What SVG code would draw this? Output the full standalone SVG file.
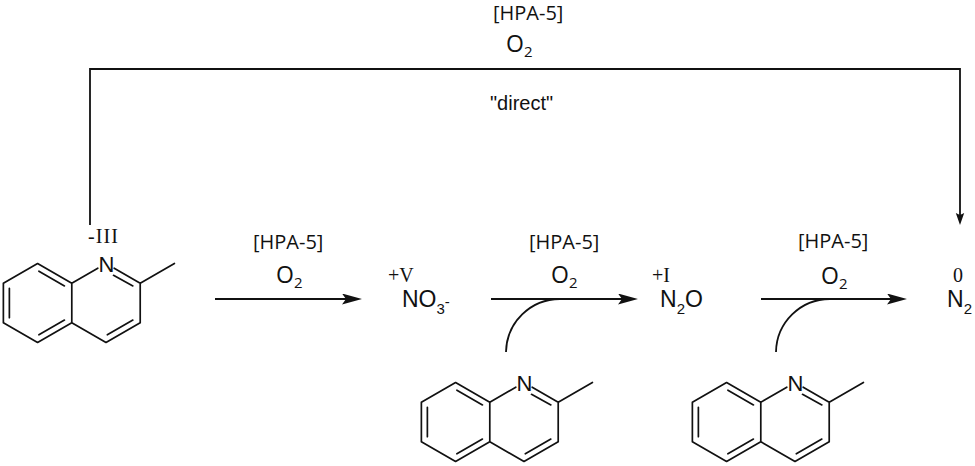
<svg xmlns="http://www.w3.org/2000/svg" xmlns:xlink="http://www.w3.org/1999/xlink" width="975" height="466" viewBox="0 0 975 466">
<style>
.bond{fill:none;stroke:#111;stroke-width:1.7;stroke-linecap:round;stroke-linejoin:round}
.conn{fill:none;stroke:#111;stroke-width:1.8}
.atom{font-family:"Liberation Sans",Arial,sans-serif;font-size:22px;fill:#111;text-anchor:middle}
.cat{font-family:"Open Sans","Liberation Sans",sans-serif;font-size:20px;fill:#111}
.ox{font-family:"Open Sans","Liberation Sans",sans-serif;font-size:23px;fill:#111}
.sp{font-family:"Liberation Sans",Arial,sans-serif;font-size:23px;fill:#111}
.val{font-family:"Liberation Serif","Times New Roman",serif;font-size:20px;fill:#111}
.lbl{font-family:"Liberation Sans",Arial,sans-serif;font-size:20px;fill:#111}
</style>
<defs>
<marker id="ah" markerUnits="userSpaceOnUse" markerWidth="22" markerHeight="12" refX="6" refY="5.5" orient="auto">
<path d="M0,0 L20,5.5 L0,11 L4,5.5 Z" fill="#111"/>
</marker>
<marker id="ahs" markerUnits="userSpaceOnUse" markerWidth="14" markerHeight="10" refX="2" refY="4.5" orient="auto">
<path d="M0,0.3 L12,4.5 L0,8.7 L2,4.5 Z" fill="#111"/>
</marker>
<g id="quin">
<path class="bond" d="M-8.2,4.7 L-34.21,19.75 L-68.42,0 L-102.63,19.75 L-102.63,59.25 L-68.42,79 L-34.21,59.25 L0,79 L34.21,59.25 L34.21,19.75 L8.2,4.7 M-34.21,19.75 L-34.21,59.25 M34.21,19.75 L68.42,0"/>
<path class="bond" d="M-67.09,7.7 L-41.54,22.45 M-96.63,24.75 L-96.63,54.25 M-67.09,71.3 L-41.54,56.55 M7.5,11.8 L26.88,22.45 M26.88,56.55 L1.33,71.3"/>
</g>
</defs>

<g id="connectors">
<polyline class="conn" points="90,225 90,69 960,69 960,215" marker-end="url(#ahs)"/>
<line class="conn" x1="215" y1="299" x2="348" y2="299" marker-end="url(#ah)"/>
<line class="conn" x1="491" y1="299" x2="624" y2="299" marker-end="url(#ah)"/>
<line class="conn" x1="761" y1="299" x2="893" y2="299" marker-end="url(#ah)"/>
<path class="conn" d="M506,352 A54,54 0 0 1 560,299"/>
<path class="conn" d="M776,352 A54,54 0 0 1 830,299"/>
<g id="label-direct">
<text class="cat" x="493" y="20">[HPA-5]</text>
<text class="ox" x="506" y="52">O<tspan font-size="15" dy="5">2</tspan></text>
<text class="lbl" x="490" y="110">"direct"</text>
</g>
<g id="label-step1">
<text class="cat" x="253" y="249">[HPA-5]</text>
<text class="ox" x="276" y="283">O<tspan font-size="15" dy="5">2</tspan></text>
</g>
<g id="label-step2">
<text class="cat" x="529" y="249">[HPA-5]</text>
<text class="ox" x="551" y="283">O<tspan font-size="15" dy="5">2</tspan></text>
</g>
<g id="label-step3">
<text class="cat" x="798" y="248">[HPA-5]</text>
<text class="ox" x="821" y="284">O<tspan font-size="15" dy="5">2</tspan></text>
</g>
</g>

<g id="quinaldine">
<use xlink:href="#quin" href="#quin" x="106" y="263.5"/>
<text class="atom" x="106.5" y="271.5">N</text>
<text class="val" x="88" y="243" textLength="30" lengthAdjust="spacing">-III</text>
</g>

<g id="nitrate">
<text class="val" x="388" y="282">+V</text>
<text class="sp" x="402" y="307">NO<tspan font-size="15" dy="7">3</tspan><tspan font-size="15" dy="-7">-</tspan></text>
</g>

<g id="nitrous-oxide">
<text class="val" x="652" y="282">+I</text>
<text class="sp" x="660" y="307">N<tspan font-size="15" dy="7">2</tspan><tspan dy="-7">O</tspan></text>
</g>

<g id="nitrogen">
<text class="val" x="953" y="282">0</text>
<text class="sp" x="947" y="307">N<tspan font-size="15" dy="7">2</tspan></text>
</g>

<g id="quinaldine-2">
<use xlink:href="#quin" href="#quin" x="524" y="382.5"/>
<text class="atom" x="524.5" y="390.5">N</text>
</g>

<g id="quinaldine-3">
<use xlink:href="#quin" href="#quin" x="795" y="382.5"/>
<text class="atom" x="795.5" y="390.5">N</text>
</g>
</svg>
